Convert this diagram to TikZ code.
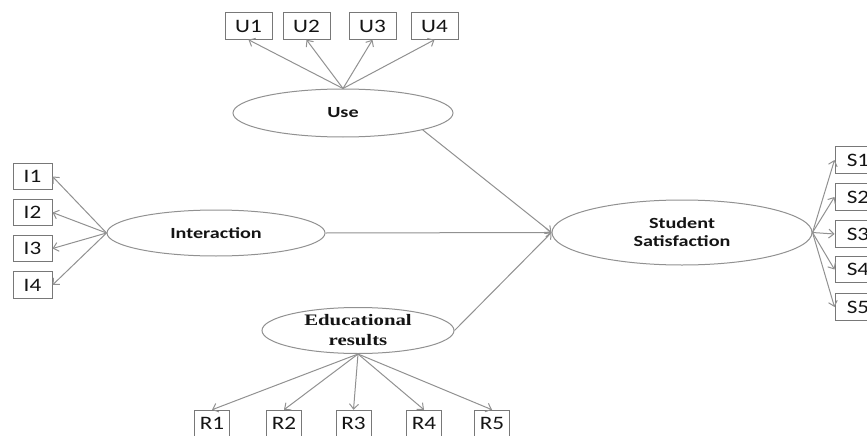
\documentclass[tikz,border=0pt]{standalone}
\usepackage{fontspec}
\usetikzlibrary{shapes.geometric,arrows.meta}
\newfontfamily\boxfont[FakeStretch=1.22]{Carlito}
\newfontfamily\latfont[FakeStretch=1.3]{Carlito}
\newfontfamily\serfont[FakeStretch=1.3]{Liberation Serif}
\definecolor{linegray}{RGB}{145,145,145}
\definecolor{boxgray}{RGB}{120,120,120}
\definecolor{txt}{RGB}{20,20,20}
\tikzset{
  ind/.style={draw=boxgray, line width=1pt, rectangle, inner sep=0pt, minimum height=26.5pt, text=txt, font=\boxfont\fontsize{19}{19}\selectfont},
  lat/.style={draw=linegray, line width=1pt, ellipse, inner sep=0pt, text=txt, align=center},
  arr/.style={draw=linegray, line width=1pt, -{Straight Barb[length=5pt,width=9pt,line width=1pt]}}
}
\begin{document}
\begin{tikzpicture}[x=1pt,y=-1pt]
\useasboundingbox (0,0) rectangle (867,436);
\begin{scope}
\clip (0,0) rectangle (867,436);
% latent variables
\node[lat, minimum width=220pt, minimum height=48pt, font=\latfont\bfseries\fontsize{15.5}{15.5}\selectfont] (use) at (343,113) {Use};
\node[lat, minimum width=218pt, minimum height=46pt, font=\latfont\bfseries\fontsize{15.5}{15.5}\selectfont] (int) at (216,233) {Interaction};
\node[lat, minimum width=260pt, minimum height=65pt, font=\latfont\bfseries\fontsize{15.5}{18}\selectfont] (ss) at (682,232.5) {Student\\Satisfaction};
\node[lat, minimum width=192pt, minimum height=46pt, font=\serfont\bfseries\fontsize{16}{20}\selectfont] (edu) at (358,330.5) {Educational\\results};
% U indicators
\node[ind, minimum width=47pt] (u1) at (248.5,26) {U1};
\node[ind, minimum width=47pt] (u2) at (306.5,26) {U2};
\node[ind, minimum width=47pt] (u3) at (372.5,26) {U3};
\node[ind, minimum width=47pt] (u4) at (434.5,26) {U4};
% I indicators
\node[ind, minimum width=39pt] (i1) at (32.5,176.5) {I1};
\node[ind, minimum width=39pt] (i2) at (32.5,212.5) {I2};
\node[ind, minimum width=39pt] (i3) at (32.5,248.5) {I3};
\node[ind, minimum width=39pt] (i4) at (32.5,285) {I4};
% S indicators
\node[ind, minimum width=46pt] (s1) at (858,160) {S1};
\node[ind, minimum width=46pt] (s2) at (858,197) {S2};
\node[ind, minimum width=46pt] (s3) at (858,234) {S3};
\node[ind, minimum width=46pt] (s4) at (858,269.5) {S4};
\node[ind, minimum width=46pt] (s5) at (858,307) {S5};
% R indicators
\node[ind, minimum width=35pt] (r1) at (212,423.5) {R1};
\node[ind, minimum width=35pt] (r2) at (284,423.5) {R2};
\node[ind, minimum width=35pt] (r3) at (353.5,423.5) {R3};
\node[ind, minimum width=35pt] (r4) at (424,423.5) {R4};
\node[ind, minimum width=35pt] (r5) at (492,423.5) {R5};
% connectors
\foreach \u in {u1,u2,u3,u4} \draw[arr] (use.north) -- (\u.south);
\foreach \i in {i1,i2,i3,i4} \draw[arr] (int.west) -- (\i.east);
\foreach \s in {s1,s2,s3,s4,s5} \draw[arr] (ss.east) -- (\s.west);
\foreach \r in {r1,r2,r3,r4,r5} \draw[arr] (edu.south) -- (\r.north);
\draw[arr] (use.-12) -- (ss.west);
\draw[arr] (int.east) -- (ss.west);
\draw[arr] (edu.east) -- (ss.west);
\end{scope}
\end{tikzpicture}
\end{document}
